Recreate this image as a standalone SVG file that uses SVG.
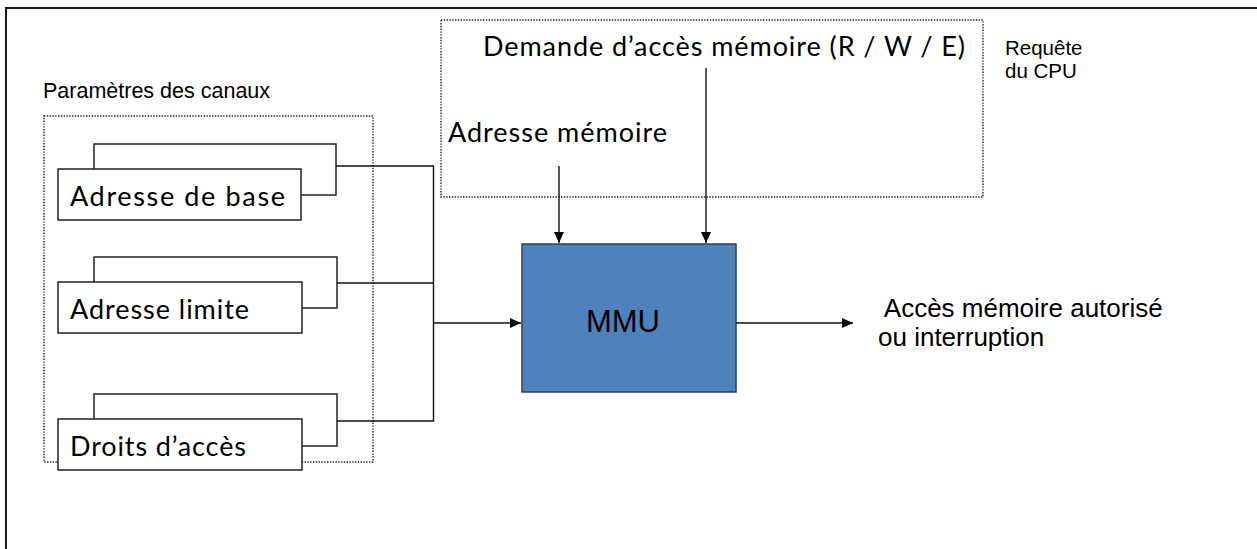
<svg xmlns="http://www.w3.org/2000/svg" width="1257" height="549" viewBox="0 0 1257 549">
<style>
.frame{fill:none;stroke:#1a1a1a;stroke-width:2}
.dot{fill:none;stroke:#222;stroke-width:1.4;stroke-dasharray:1.4 1.4}
.box{fill:#fff;stroke:#222;stroke-width:1.5}
.ln{fill:none;stroke:#111;stroke-width:1.4}
.cal{font-family:Lato,"Open Sans",sans-serif;font-size:27px;fill:#000}
.ar{font-family:"Liberation Sans",Arial,sans-serif;fill:#000}
</style>
<defs>
<marker id="ah" markerUnits="userSpaceOnUse" markerWidth="11" markerHeight="10" refX="11" refY="5" orient="auto">
<path d="M0,0 L11,5 L0,10 z" fill="#000"/>
</marker>
</defs>
<rect width="1257" height="549" fill="#fff"/>
<path class="frame" d="M6,549 V8 H1257"/>

<g id="params-group">
<rect class="dot" x="44" y="116" width="329" height="346"/>
<text class="ar" x="43" y="98" font-size="21.5">Paramètres des canaux</text>
</g>

<g id="cpu-request">
<rect class="dot" x="441" y="20" width="542" height="177"/>
<text class="ar" x="1005" y="55" font-size="20.5">Requête</text>
<text class="ar" x="1005" y="78" font-size="20.5">du CPU</text>
<text class="cal" x="483" y="56" textLength="482">Demande d’accès mémoire (R / W / E)</text>
<text class="cal" x="448" y="142" textLength="219">Adresse mémoire</text>
</g>

<g id="base">
<rect class="box" x="94" y="144" width="242" height="51"/>
<rect class="box" x="58" y="169" width="243" height="51"/>
<text class="cal" x="70" y="206" textLength="215">Adresse de base</text>
</g>

<g id="limite">
<rect class="box" x="94" y="257" width="243" height="51"/>
<rect class="box" x="58" y="282" width="244" height="51"/>
<text class="cal" x="70" y="319" textLength="179">Adresse limite</text>
</g>

<g id="droits">
<rect class="box" x="94" y="394" width="243" height="52"/>
<rect class="box" x="58" y="419" width="244" height="51"/>
<text class="cal" x="70" y="456" textLength="176">Droits d’accès</text>
</g>

<g id="mmu">
<rect x="522" y="244" width="214" height="148" fill="#4f81bd" stroke="#2b3f5c" stroke-width="1.5"/>
<text class="ar" x="623" y="332" font-size="31" text-anchor="middle">MMU</text>
</g>

<g id="output-label">
<text class="ar" x="878" y="317" font-size="26" xml:space="preserve"> Accès mémoire autorisé</text>
<text class="ar" x="878" y="346" font-size="26">ou interruption</text>
</g>

<g id="connectors">
<path class="ln" d="M336,166 H433.5 M337,283 H433.5 M337,421 H433.5 M433.5,165.3 V421.7"/>
<path class="ln" d="M433.5,323 H521" marker-end="url(#ah)"/>
<path class="ln" d="M736,323 H853" marker-end="url(#ah)"/>
<path class="ln" d="M559,166 V243" marker-end="url(#ah)"/>
<path class="ln" d="M706,68 V243" marker-end="url(#ah)"/>
</g>
</svg>
